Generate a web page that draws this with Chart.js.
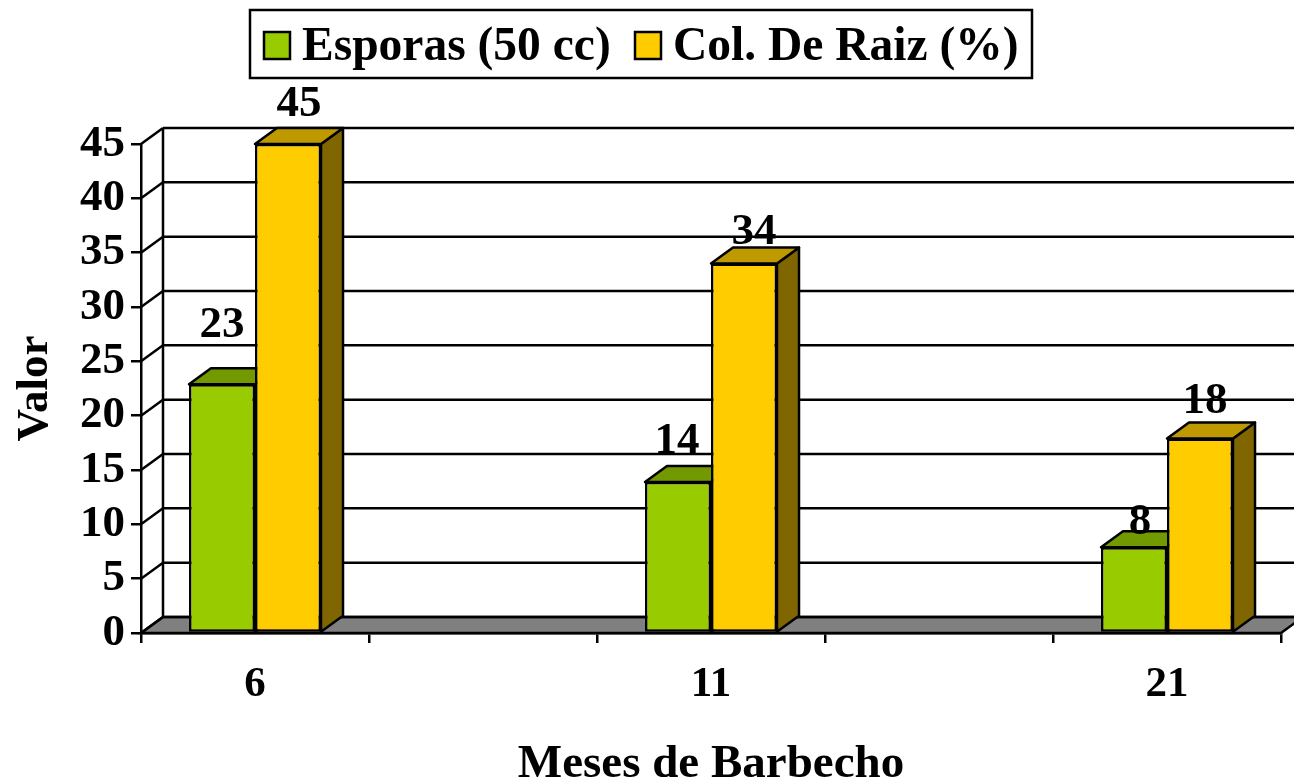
<!DOCTYPE html>
<html>
<head>
<meta charset="utf-8">
<script src="https://cdn.jsdelivr.net/npm/chart.js@4"></script>
<style>
    html, body { margin: 0; padding: 0; background: white; overflow: hidden; }
    canvas { display: block; }
</style>
</head>
<body>
<canvas id="bar" width="1294" height="780"></canvas>
<script>
const months = ["6", "", "11", "", "21"];
const esporas = [22.9, null, 13.9, null, 7.9];
const colRaiz = [45, null, 34, null, 17.9];
const yTicks = [0, 5, 10, 15, 20, 25, 30, 35, 40, 45];

const FONT = "'Liberation Serif', serif";
const DEPTH_X = 22;
const DEPTH_Y = 16;
const LINE = 2.5;
// hand placed labels in the original: [dx from bar centre, dy above bar top]
const labelNudge = [
    [[0, 47], null, [-1, 29], null, [6, 13]],
    [[11, 28], null, [10, 20], null, [5, 25]]
];
// swatch x of each legend entry
const legendX = [264, 635];

function fillPoly(ctx, points, fill) {
    ctx.beginPath();
    points.forEach(([x, y], i) => i ? ctx.lineTo(x, y) : ctx.moveTo(x, y));
    ctx.closePath();
    ctx.fillStyle = fill;
    ctx.fill();
    ctx.stroke();
}

function line(ctx, x1, y1, x2, y2) {
    ctx.beginPath();
    ctx.moveTo(x1, y1);
    ctx.lineTo(x2, y2);
    ctx.stroke();
}

const legendBox = {
    id: "legendBox",
    afterDraw(chart) {
        const ctx = chart.ctx;
        ctx.save();
        ctx.strokeStyle = "black";
        ctx.lineWidth = LINE;
        ctx.strokeRect(250, 10, 782, 68);
        ctx.font = "bold 47.5px " + FONT;
        ctx.textBaseline = "alphabetic";
        chart.data.datasets.forEach((dataset, d) => {
            ctx.fillStyle = dataset.backgroundColor;
            ctx.fillRect(legendX[d], 32, 26, 27);
            ctx.strokeRect(legendX[d], 32, 26, 27);
            ctx.fillStyle = "black";
            ctx.fillText(dataset.label, legendX[d] + 38, 60);
        });
        ctx.restore();
    }
};

const walls = {
    id: "walls",
    beforeDraw(chart) {
        const { ctx, chartArea: area, scales: { y } } = chart;
        const bottom = y.getPixelForValue(0);
        ctx.save();
        ctx.strokeStyle = "black";
        ctx.lineWidth = LINE;
        fillPoly(ctx, [
            [area.left, bottom],
            [area.left + DEPTH_X, bottom - DEPTH_Y],
            [area.right + DEPTH_X, bottom - DEPTH_Y],
            [area.right, bottom]
        ], "#808080");
        yTicks.forEach(value => {
            const py = y.getPixelForValue(value);
            line(ctx, area.left, py, area.left + DEPTH_X, py - DEPTH_Y);
            line(ctx, area.left + DEPTH_X, py - DEPTH_Y, area.right + DEPTH_X, py - DEPTH_Y);
        });
        line(ctx, area.left + DEPTH_X, y.getPixelForValue(45) - DEPTH_Y, area.left + DEPTH_X, bottom - DEPTH_Y);
        ctx.restore();
    }
};

const bars3d = {
    id: "bars3d",
    beforeDatasetsDraw(chart) {
        const ctx = chart.ctx;
        ctx.save();
        ctx.strokeStyle = "black";
        ctx.lineWidth = LINE;
        ctx.lineJoin = "round";
        chart.data.datasets.forEach((dataset, d) => {
            chart.getDatasetMeta(d).data.forEach((bar, i) => {
                if (dataset.data[i] === null) return;
                const left = bar.x - bar.width / 2;
                const right = bar.x + bar.width / 2;
                fillPoly(ctx, [[right, bar.y], [right + DEPTH_X, bar.y - DEPTH_Y], [right + DEPTH_X, bar.base - DEPTH_Y], [right, bar.base]], dataset.sideColor);
                fillPoly(ctx, [[left, bar.y], [left + DEPTH_X, bar.y - DEPTH_Y], [right + DEPTH_X, bar.y - DEPTH_Y], [right, bar.y]], dataset.topColor);
            });
        });
        ctx.restore();
    },
    afterDatasetsDraw(chart) {
        const ctx = chart.ctx;
        ctx.save();
        ctx.fillStyle = "black";
        ctx.font = "bold 45px " + FONT;
        ctx.textAlign = "center";
        ctx.textBaseline = "alphabetic";
        chart.data.datasets.forEach((dataset, d) => {
            chart.getDatasetMeta(d).data.forEach((bar, i) => {
                if (dataset.data[i] === null) return;
                const [dx, dy] = labelNudge[d][i];
                ctx.fillText(Math.round(dataset.data[i]), bar.x + dx, bar.y - dy);
            });
        });
        ctx.restore();
    }
};

new Chart(document.getElementById("bar"), {
    type: "bar",
    data: {
        labels: months,
        datasets: [
            { label: "Esporas (50 cc)", data: esporas, backgroundColor: "#99CC00", topColor: "#739900", sideColor: "#668800", borderColor: "black", borderWidth: LINE, borderSkipped: false },
            { label: "Col. De Raiz (%)", data: colRaiz, backgroundColor: "#FFCC00", topColor: "#BF9900", sideColor: "#806600", borderColor: "black", borderWidth: LINE, borderSkipped: false }
        ]
    },
    options: {
        responsive: false,
        animation: false,
        barPercentage: 1,
        categoryPercentage: 0.579,
        layout: { padding: { left: 0, right: 13, top: 144, bottom: 0 } },
        plugins: {
            tooltip: { enabled: false },
            legend: { display: false }
        },
        scales: {
            x: {
                afterFit(scale) { scale.height = 147; },
                grid: { offset: true, drawOnChartArea: false, color: "black", lineWidth: LINE, tickLength: 10 },
                border: { color: "black", width: LINE },
                ticks: { color: "black", autoSkip: false, maxRotation: 0, padding: 16, font: { family: FONT, size: 43, weight: "bold" } },
                title: { display: true, text: "Meses de Barbecho", color: "black", padding: { top: 0, bottom: -13 }, font: { family: FONT, size: 47, weight: "bold" } }
            },
            y: {
                min: 0,
                max: 45,
                afterFit(scale) { scale.width = 141; },
                afterBuildTicks(scale) { scale.ticks = yTicks.map(value => ({ value })); },
                grid: { drawOnChartArea: false, color: "black", lineWidth: LINE, tickLength: 10 },
                border: { color: "black", width: LINE },
                ticks: { color: "black", padding: 6, autoSkip: false, font: { family: FONT, size: 45, weight: "bold" } },
                title: { display: true, text: "Valor", color: "black", padding: 8, font: { family: FONT, size: 45, weight: "bold" } }
            }
        }
    },
    plugins: [legendBox, walls, bars3d]
});
</script>
</body>
</html>
